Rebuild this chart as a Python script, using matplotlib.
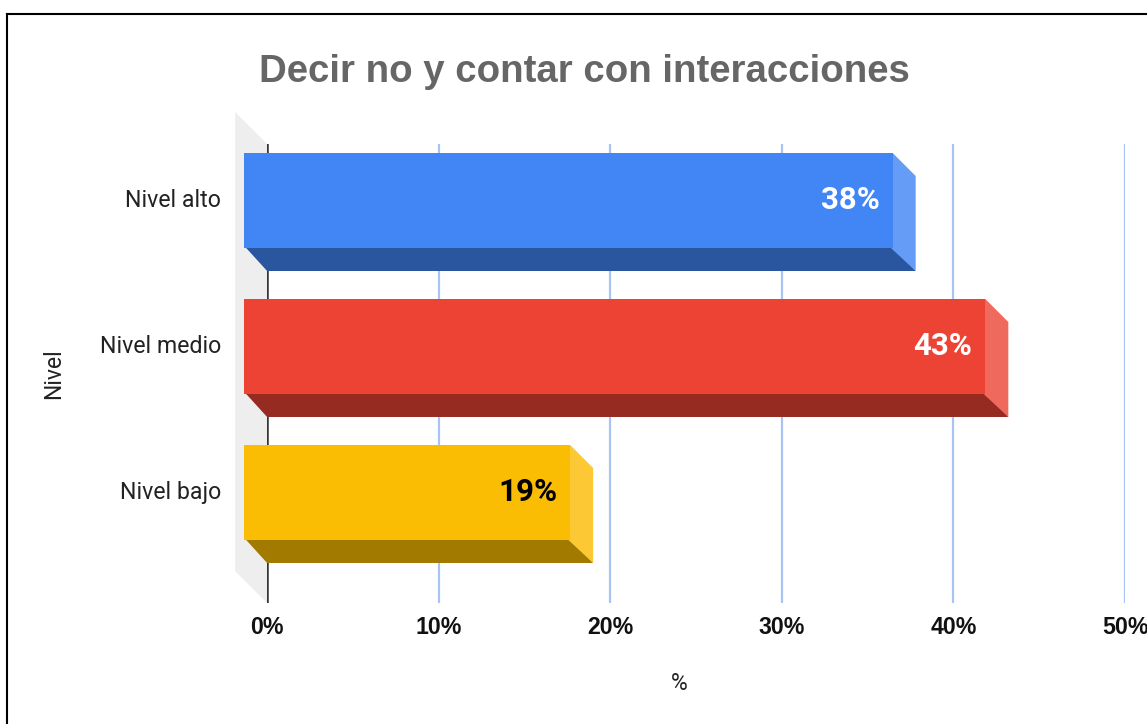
#!/usr/bin/env python

import matplotlib
matplotlib.use('Agg')
import matplotlib.pyplot as plt
from matplotlib.lines import Line2D
from matplotlib.patches import Polygon

categorias = ['Nivel alto', 'Nivel medio', 'Nivel bajo']
valores = [37.8, 43.2, 19.0]
etiquetas = ['38%', '43%', '19%']
ticks = [0, 10, 20, 30, 40, 50]
tick_labels = ['0%', '10%', '20%', '30%', '40%', '50%']

frente = ['#4285f4', '#ec4335', '#fbbc04']
abajo = ['#2a569f', '#962b22', '#a37a00']
lado = ['#659cf6', '#ef695d', '#fcc934']
color_etiqueta = ['white', 'white', 'black']

W, H = 1147, 724
fig = plt.figure(figsize=(W / 100, H / 100), dpi=100)
ax = fig.add_axes([267.1 / W, 1 - 603 / H, (1125 - 267.1) / W, (603 - 144) / H])
ax.set_xlim(0, 50)
ax.set_ylim(2.757, -0.387)

# profundidad del efecto 3D en unidades de datos
dx = 23 / 17.15
dy = 23 / 146
alto = 95 / 146
solape = 0.1  # para que no quede una raya clara entre caras

# pared izquierda
wall_x = 32 / 17.15
wall_y = 32 / 146
y0, y1 = ax.get_ylim()
ax.add_patch(Polygon([(-wall_x, y1 - wall_y), (0, y1), (0, y0), (-wall_x, y0 - wall_y)],
                     closed=True, fc='#eeeeee', ec='none', clip_on=False, zorder=1))

for t in ticks[1:]:
    ax.axvline(t, color='#a8c4f2', lw=1.6, zorder=2)
ax.axvline(0, color='#333333', lw=1.8, zorder=2)

for i, v in enumerate(valores):
    arriba = i - alto / 2
    base = i + alto / 2
    fin = v - dx
    ax.barh(i, v, left=-dx, height=alto, color=frente[i], zorder=4, clip_on=False)
    ax.add_patch(Polygon([(-dx, base - solape * dy), (fin, base - solape * dy), (v, base + dy), (0, base + dy)],
                         closed=True, fc=abajo[i], ec='none', zorder=3, clip_on=False))
    ax.add_patch(Polygon([(fin - solape, arriba), (fin, arriba), (v, arriba + dy), (v, base + dy), (fin - solape, base)],
                         closed=True, fc=lado[i], ec='none', zorder=3.5, clip_on=False))
    ax.annotate(etiquetas[i], xy=(fin, i), xytext=(-9.4, 0.5), textcoords='offset points',
                ha='right', va='center', fontsize=22.5, fontweight='bold', family='Roboto',
                color=color_etiqueta[i], zorder=5)

for s in ax.spines.values():
    s.set_visible(False)

ax.set_xticks(ticks)
ax.set_xticklabels(tick_labels, fontsize=16.7, fontweight='bold', family='Liberation Sans', color='#111111')
ax.set_yticks(range(len(categorias)))
ax.set_yticklabels(categorias, fontsize=16.7, family='Roboto', color='#222222', va='center')
ax.tick_params(axis='x', length=0, pad=9)
ax.tick_params(axis='y', length=0, pad=33)

fig.text(584 / W, 1 - 72.5 / H, 'Decir no y contar con interacciones', ha='center', va='center',
         fontsize=27.6, fontweight='bold', family='Liberation Sans', color='#666666')
fig.text(679 / W, 1 - 683 / H, '%', ha='center', va='center', fontsize=16.5, family='Roboto', color='#222222')
fig.text(54 / W, 1 - 373.5 / H, 'Nivel', ha='center', va='center', rotation=90, fontsize=16.5,
         family='Roboto', color='#222222')

# marco negro de la captura, solo arriba y a la izquierda
fig.add_artist(Line2D([6.5 / W, 6.5 / W], [0, 1 - 13.5 / H], color='black', lw=1.5))
fig.add_artist(Line2D([6.5 / W, 1], [1 - 13.5 / H, 1 - 13.5 / H], color='black', lw=1.5))

fig.savefig('out.png', dpi=100)
